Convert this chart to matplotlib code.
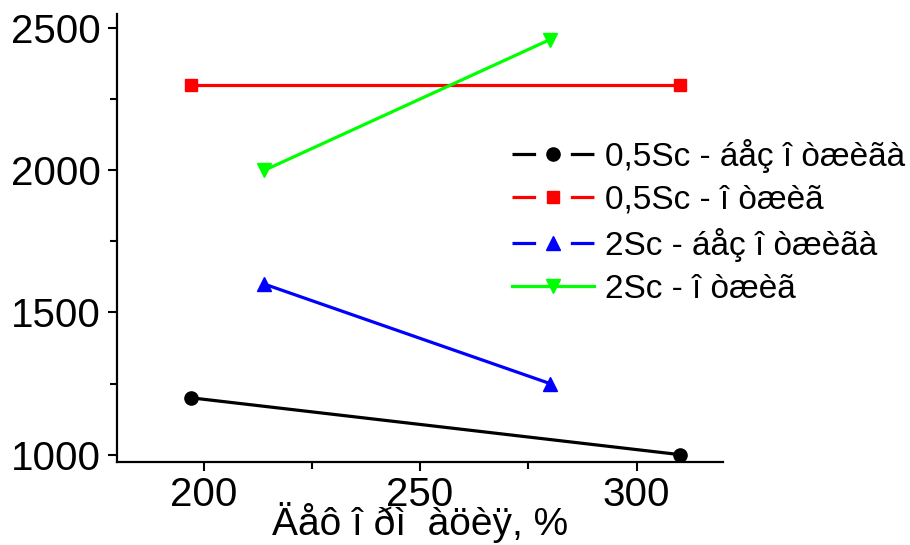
import matplotlib
matplotlib.use("Agg")
import matplotlib.pyplot as plt
from matplotlib.lines import Line2D
from matplotlib.ticker import MultipleLocator

plt.rcParams['font.family'] = ['Liberation Sans', 'DejaVu Sans']
plt.rcParams['lines.scale_dashes'] = False

# Data
x_black = [197, 310]
y_black = [1200, 1000]
x_red = [197, 310]
y_red = [2300, 2300]
x_blue = [214, 280]
y_blue = [1600, 1250]
x_green = [214, 280]
y_green = [2000, 2460]

labels = ["0,5Sc - áåç î òæèãà", "0,5Sc - î òæèã", "2Sc - áåç î òæèãà", "2Sc - î òæèã"]
xlabel = "Äåô î ðì  àöèÿ, %"
xticks = [200, 250, 300]
yticks = [1000, 1500, 2000, 2500]

fig = plt.figure(figsize=(9.1, 5.45), dpi=100)
ax = fig.add_axes([0.1286, 0.1528, 0.666, 0.8215])

lw = 2.3
ax.plot(x_black, y_black, color='black', lw=lw, marker='o', ms=9.5)
ax.plot(x_red, y_red, color='red', lw=lw, marker='s', ms=8)
ax.plot(x_blue, y_blue, color='blue', lw=lw, marker='^', ms=10)
ax.plot(x_green, y_green, color='#00ff00', lw=lw, marker='v', ms=10)

ax.set_xlim(180, 320)
ax.set_ylim(975, 2550)
ax.set_xticks(xticks)
ax.set_yticks(yticks)
ax.xaxis.set_minor_locator(MultipleLocator(25))
ax.yaxis.set_minor_locator(MultipleLocator(250))
for s in ['top', 'right']:
    ax.spines[s].set_visible(False)
for s in ['left', 'bottom']:
    ax.spines[s].set_linewidth(1.6)
ax.tick_params(axis='both', which='major', direction='out', length=6.5, width=1.5, labelsize=29)
ax.tick_params(axis='both', which='minor', direction='out', length=5, width=1.5)
ax.tick_params(axis='y', pad=5)
ax.tick_params(axis='x', pad=4)
ax.set_xlabel(xlabel, fontsize=28, labelpad=-9)

# Legend handles (Origin-style: line broken around marker)
def broken(color, marker, ms):
    seg = Line2D([], [], color=color, lw=lw, linestyle=(0, (17, 25)))
    mk = Line2D([], [], color=color, lw=0, marker=marker, ms=ms)
    return (seg, mk)

handles = [broken('black', 'o', 9.5), broken('red', 's', 8), broken('blue', '^', 10),
           Line2D([], [], color='#00ff00', lw=lw, marker='v', ms=10)]
leg = fig.legend(handles, labels, loc='upper left', bbox_to_anchor=(0.5626, 0.745),
                 frameon=False, fontsize=24, handlelength=2.45, handletextpad=0.33,
                 labelspacing=0.36, borderpad=0, borderaxespad=0)

fig.savefig("out.png", dpi=100)
